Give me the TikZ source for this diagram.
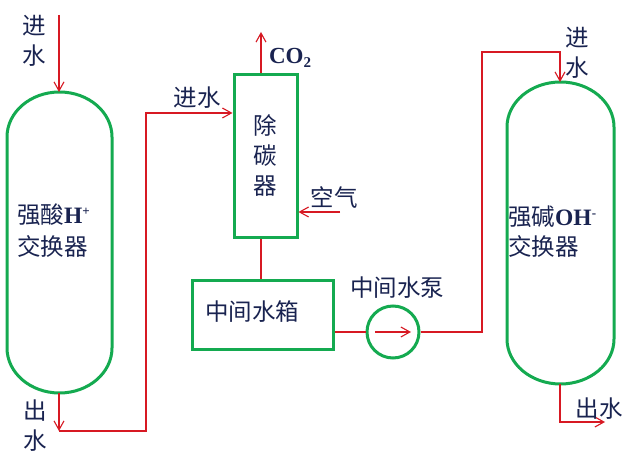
\documentclass[tikz,border=0pt]{standalone}
\usepackage{fontspec}
\setmainfont{Liberation Serif}
\newfontfamily\cjk{Noto Sans CJK SC}
\usetikzlibrary{arrows.meta}
\definecolor{vgreen}{RGB}{20,170,80}
\definecolor{pred}{RGB}{215,25,35}
\definecolor{tnavy}{RGB}{25,35,80}
\begin{document}
\begin{tikzpicture}[x=1pt,y=1pt,
  vessel/.style={draw=vgreen, line width=3pt},
  box/.style={draw=vgreen, line width=3pt, rectangle, inner sep=0pt},
  pipe/.style={draw=pred, line width=1.1pt},
  flow/.style={pipe, -{Straight Barb[length=9pt,width=10pt,line width=1.1pt]}},
  lab/.style={text=tnavy, font=\cjk\fontsize{23.5}{30}\selectfont, inner sep=0pt, align=center},
  latinb/.style={text=tnavy, font=\rmfamily\bfseries\fontsize{23}{26}\selectfont, inner sep=0pt},
]
\useasboundingbox (0,0) rectangle (640,468);
\fill[white] (0,0) rectangle (640,468);

% vessels
\draw[vessel] (7,331) arc[start angle=180,end angle=0,x radius=52.5,y radius=45] -- (112,120)
  arc[start angle=0,end angle=-180,x radius=52.5,y radius=45] -- cycle;
\draw[vessel] (507,341) arc[start angle=180,end angle=0,x radius=53.5,y radius=45] -- (614,129)
  arc[start angle=0,end angle=-180,x radius=53.5,y radius=45] -- cycle;
\coordinate (LVtop) at (59,376);
\coordinate (LVbot) at (59,75);
\coordinate (RVtop) at (560,386);
\coordinate (RVbot) at (560,84);

% boxes
\node[box, minimum width=63pt, minimum height=163pt] (deg) at (265.5,311.5) {};
\node[box, minimum width=141pt, minimum height=69pt] (tank) at (262.5,152.5) {};
\node[draw=vgreen, line width=3pt, circle, minimum size=52pt, inner sep=0pt] (pump) at (393,136) {};

% coordinates
\coordinate (inL) at (59,453);
\coordinate (Lcorner) at (59,37);
\coordinate (Lright) at (146,37);
\coordinate (Lup) at (146,355);
\coordinate (co2end) at (261,436);
\coordinate (airstart) at (340,256);
\coordinate (pa) at (375,136);
\coordinate (pb) at (411,136);
\coordinate (Rlow) at (482,136);
\coordinate (Rhigh) at (482,416);
\coordinate (Rtop) at (560,416);
\coordinate (Rcorner) at (560,46);
\coordinate (Rout) at (605,46);

% connectors
\draw[flow] (inL) -- (LVtop);
\draw[flow] (LVbot) -- (Lcorner);
\draw[flow] (Lcorner) -- (Lright) -- (Lup) -- (deg.west |- Lup);
\draw[flow] (co2end |- deg.north) -- (co2end);
\draw[flow] (airstart) -- (airstart -| deg.east);
\draw[pipe] (co2end |- deg.south) -- (co2end |- tank.north);
\draw[pipe] (tank.east |- pump.west) -- (pump.west);
\draw[flow] (pa) -- (pb);
\draw[flow] (pump.east) -- (Rlow) -- (Rhigh) -- (Rtop) -- (RVtop);
\draw[flow] (RVbot) -- (Rcorner) -- (Rout);

% labels
\node[lab] (in1) at (34,427.5) {进\\水};
\node[lab] (out1) at (35,42) {出\\水};
\node[lab] (in2) at (197,370) {进水};
\node[latinb] (co2) at (290,410) {CO\raisebox{-0.35ex}{\fontsize{15}{15}\selectfont 2}};
\node[lab] (degtxt) at (265,312.5) {除\\碳\\器};
\node[lab] (air) at (334,271) {空气};
\node[lab] (tanktxt) at (252,156) {中间水箱};
\node[lab] (pumptxt) at (397,180) {中间水泵};
\node[lab, anchor=west, align=left, font=\cjk\fontsize{23.5}{32}\selectfont] (LVtxt) at (17,237)
  {强酸{\rmfamily\bfseries H\raisebox{0.8ex}{\fontsize{13}{13}\selectfont +}}\\交换器};
\node[lab, anchor=west, align=left, font=\cjk\fontsize{23.5}{30}\selectfont] (RVtxt) at (508,236)
  {强碱{\rmfamily\bfseries OH\raisebox{0.8ex}{\fontsize{13}{13}\selectfont -}}\\交换器};
\node[lab] (in3) at (577,415.5) {进\\水};
\node[lab] (out3) at (599,59) {出水};
\end{tikzpicture}
\end{document}
